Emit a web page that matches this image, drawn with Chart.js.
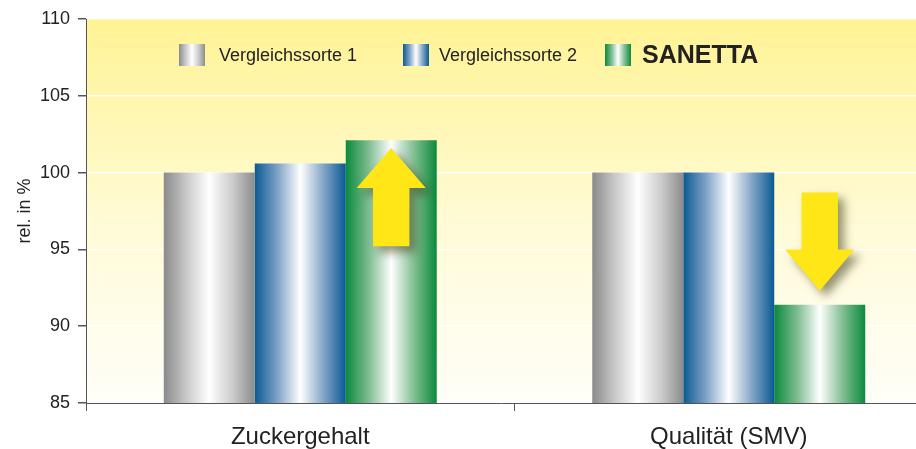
<!DOCTYPE html>
<html>
<head>
<meta charset="utf-8">
<script src="https://cdn.jsdelivr.net/npm/chart.js@4.4.1/dist/chart.umd.min.js"></script>
<style>
html,body{margin:0;padding:0;background:#fff;}
#wrap{width:916px;height:449px;position:relative;}
</style>
</head>
<body>
<div id="wrap"><canvas id="c" width="916" height="449"></canvas></div>
<script>
const categories = ['Zuckergehalt', 'Qualität (SMV)'];
const seriesNames = ['Vergleichssorte 1', 'Vergleichssorte 2', 'SANETTA'];
const vergleich1 = [100, 100];
const vergleich2 = [100.6, 100];
const sanetta = [102.1, 91.4];
const yTicks = [85, 90, 95, 100, 105, 110];
const yLabel = 'rel. in %';

const FONT = "'Liberation Sans', Arial, Helvetica, sans-serif";
const palettes = [
  ['#8a8a8a', '#c9c9c9', '#ffffff', '#cdcdcd', '#8c8c8c'],
  ['#0a5a94', '#7fa2c6', '#ffffff', '#86a7c8', '#0a5a94'],
  ['#0a8a3c', '#7dbb8f', '#ffffff', '#82bf93', '#0a8a3c']
];

function makeGradient(ctx, l, r, idx) {
  const g = ctx.createLinearGradient(l, 0, r, 0);
  const p = palettes[idx];
  g.addColorStop(0, p[0]);
  g.addColorStop(0.25, p[1]);
  g.addColorStop(0.5, p[2]);
  g.addColorStop(0.75, p[3]);
  g.addColorStop(1, p[4]);
  return g;
}

// the plot continues a little past the right edge of the picture
const extendPlugin = {
  id: 'extend',
  afterLayout(chart) {
    const ext = 27;
    chart.chartArea.right += ext;
    chart.chartArea.width = chart.chartArea.right - chart.chartArea.left;
    const x = chart.scales.x;
    x.right += ext;
    x.width += ext;
    x.configure();
  }
};

const gradPlugin = {
  id: 'grad',
  beforeDatasetsDraw(chart) {
    const {ctx} = chart;
    chart.data.datasets.forEach((ds, i) => {
      chart.getDatasetMeta(i).data.forEach(el => {
        el.options = Object.assign({}, el.options, {
          backgroundColor: makeGradient(ctx, el.x - el.width / 2, el.x + el.width / 2, i)
        });
      });
    });
  }
};

const bgPlugin = {
  id: 'bg',
  beforeDraw(chart) {
    const {ctx, chartArea: a} = chart;
    const g = ctx.createLinearGradient(0, a.top, 0, a.bottom);
    g.addColorStop(0, '#fff394');
    g.addColorStop(0.55, '#fffbd8');
    g.addColorStop(1, '#fffef8');
    ctx.save();
    ctx.fillStyle = g;
    ctx.fillRect(a.left, a.top, Math.min(a.right, chart.width) - a.left, a.bottom - a.top);
    ctx.restore();
  }
};

// arrows: category index, tail value, head-base value, tip value
const arrows = [
  {cat: 0, tail: 95.2, base: 99.0, tip: 101.6},
  {cat: 1, tail: 98.7, base: 95.0, tip: 92.3}
];

const arrowPlugin = {
  id: 'arrows',
  afterDatasetsDraw(chart) {
    const {ctx} = chart;
    const y = chart.scales.y;
    const meta = chart.getDatasetMeta(2);
    arrows.forEach(a => {
      const el = meta.data[a.cat];
      const cx = el.x;
      const bw = el.width;
      const shaft = bw * 0.40 / 2;
      const head = bw * 0.76 / 2;
      const yt = y.getPixelForValue(a.tail);
      const yb = y.getPixelForValue(a.base);
      const yp = y.getPixelForValue(a.tip);
      ctx.save();
      ctx.shadowColor = 'rgba(60,60,20,0.55)';
      ctx.shadowBlur = 10;
      ctx.shadowOffsetX = 6;
      ctx.shadowOffsetY = 6;
      ctx.fillStyle = '#ffe617';
      ctx.beginPath();
      ctx.moveTo(cx - shaft, yt);
      ctx.lineTo(cx - shaft, yb);
      ctx.lineTo(cx - head, yb);
      ctx.lineTo(cx, yp);
      ctx.lineTo(cx + head, yb);
      ctx.lineTo(cx + shaft, yb);
      ctx.lineTo(cx + shaft, yt);
      ctx.closePath();
      ctx.fill();
      ctx.restore();
    });
  }
};

const legendPlugin = {
  id: 'customLegend',
  afterDraw(chart) {
    const {ctx, chartArea: a} = chart;
    const items = [
      {x: 179, gap: 14, font: '18px ' + FONT},
      {x: 403, gap: 10, font: '18px ' + FONT},
      {x: 605, gap: 11, font: 'bold 25px ' + FONT}
    ];
    const cy = a.top + 36;
    ctx.save();
    items.forEach((it, i) => {
      const bx = it.x, bw = 26, bh = 22;
      ctx.fillStyle = makeGradient(ctx, bx, bx + bw, i);
      ctx.fillRect(bx, cy - bh / 2, bw, bh);
      ctx.fillStyle = '#222';
      ctx.font = it.font;
      ctx.textBaseline = 'middle';
      ctx.textAlign = 'left';
      ctx.fillText(seriesNames[i], bx + bw + it.gap, cy + 1);
    });
    ctx.restore();
  }
};

const dsCommon = {borderWidth: 0, barPercentage: 1.0, categoryPercentage: 0.637};

new Chart(document.getElementById('c'), {
  type: 'bar',
  data: {
    labels: categories,
    datasets: [
      Object.assign({label: seriesNames[0], data: vergleich1, backgroundColor: () => '#8a8a8a'}, dsCommon),
      Object.assign({label: seriesNames[1], data: vergleich2, backgroundColor: () => '#0a5a94'}, dsCommon),
      Object.assign({label: seriesNames[2], data: sanetta, backgroundColor: () => '#0a8a3c'}, dsCommon)
    ]
  },
  options: {
    responsive: false,
    animation: false,
    layout: {padding: {top: 19, right: 0, left: 0, bottom: 0}},
    plugins: {legend: {display: false}, tooltip: {enabled: false}},
    scales: {
      x: {
        grid: {display: true, drawOnChartArea: false, tickColor: '#555', tickLength: 8, offset: true},
        border: {color: '#555', width: 1},
        ticks: {color: '#222', font: {family: FONT, size: 24}, padding: 12},
        afterFit(s) { s.height = 46; }
      },
      y: {
        min: 85, max: 110,
        afterBuildTicks(s) { s.ticks = yTicks.map(v => ({value: v})); },
        grid: {color: 'rgba(255,255,255,0.95)', lineWidth: 1.5, tickColor: '#555', tickLength: 8},
        border: {color: '#555', width: 1},
        ticks: {color: '#222', font: {family: FONT, size: 18}, padding: 8},
        title: {display: true, text: yLabel, color: '#222', font: {family: FONT, size: 18}, padding: {top: 14, bottom: 0}},
        afterFit(s) { s.width = 86; }
      }
    }
  },
  plugins: [extendPlugin, gradPlugin, bgPlugin, arrowPlugin, legendPlugin]
});
</script>
</body>
</html>
